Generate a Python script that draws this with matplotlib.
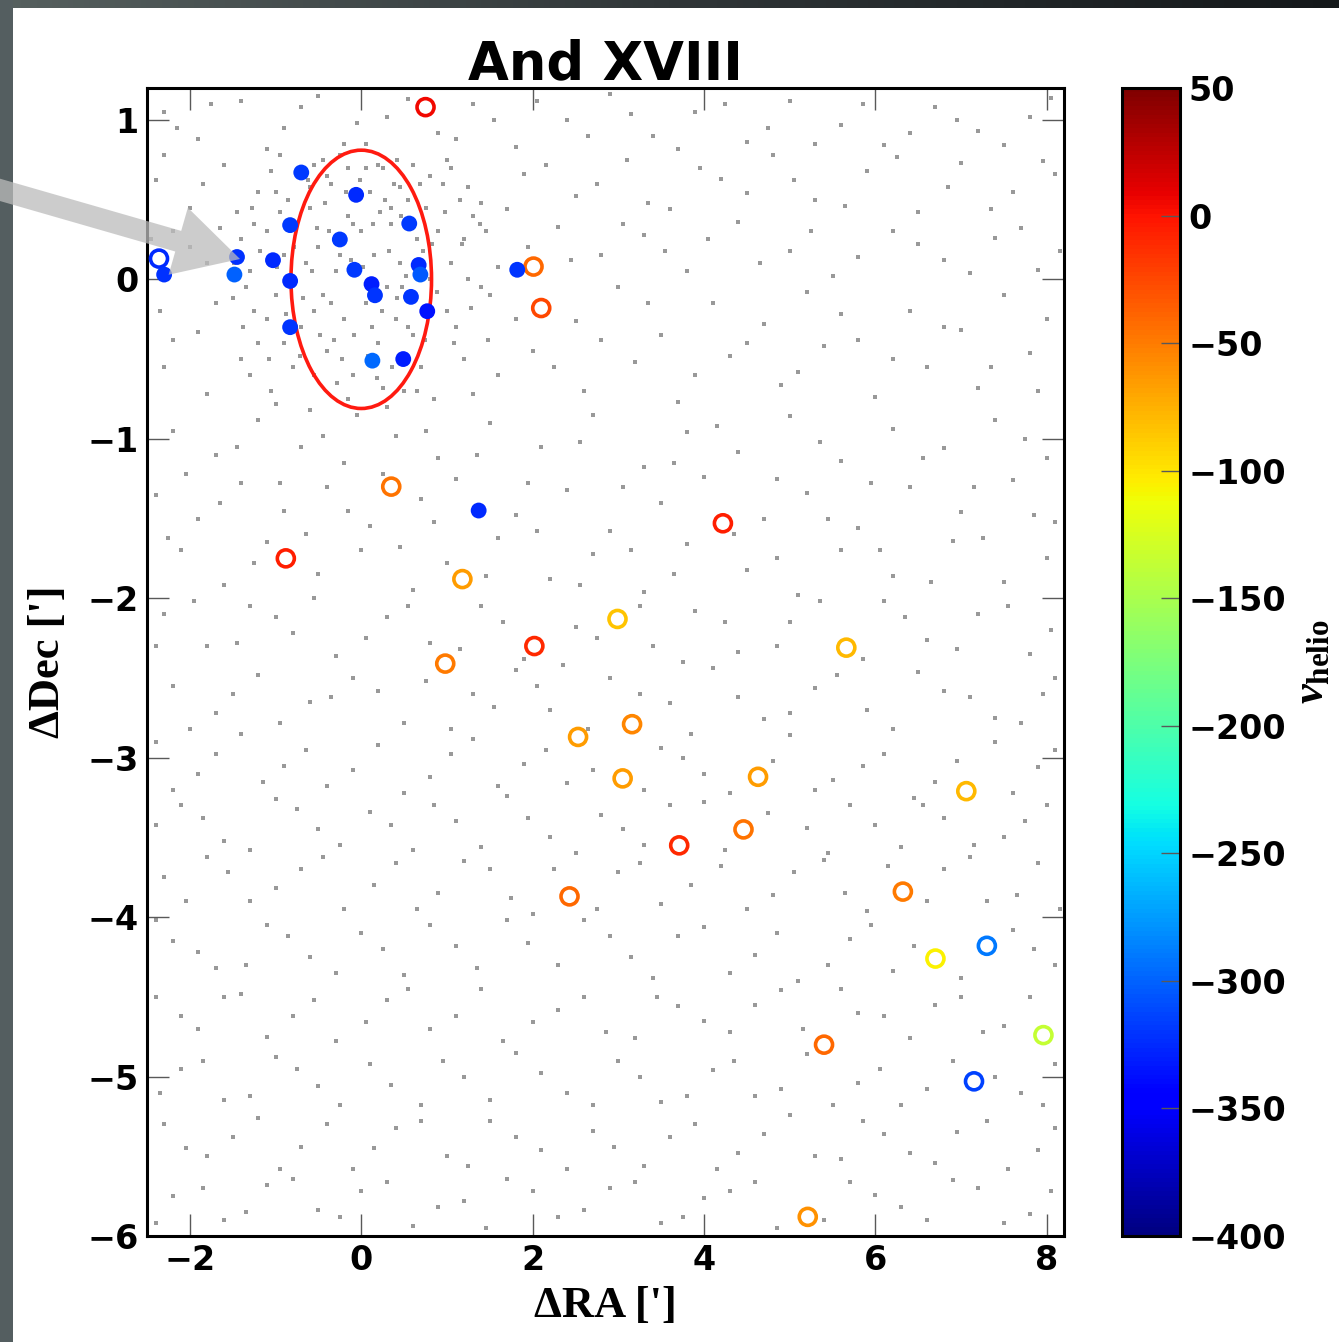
import numpy as np
import matplotlib
matplotlib.use("Agg")
import matplotlib.pyplot as plt
from matplotlib.patches import Ellipse, FancyArrow, Rectangle
from matplotlib.colors import Normalize

plt.rcParams['mathtext.fontset'] = 'custom'
plt.rcParams['mathtext.rm'] = 'Liberation Serif:bold'
plt.rcParams['mathtext.it'] = 'Liberation Serif:italic:bold'
plt.rcParams['mathtext.bf'] = 'Liberation Serif:bold'

# ---------------- data ----------------
# member stars (filled)
mem_ra = [-2.30, -1.45, -1.48, -1.03, -0.70, -0.83, -0.83, -0.83, -0.25, -0.06, -0.08,
          0.12, 0.16, 0.13, 0.49, 0.56, 0.67, 0.69, 0.58, 0.77, 1.82, 1.37]
mem_dec = [0.03, 0.14, 0.03, 0.12, 0.67, 0.34, -0.01, -0.30, 0.25, 0.53, 0.06,
           -0.03, -0.10, -0.51, -0.50, 0.35, 0.09, 0.03, -0.11, -0.20, 0.06, -1.45]
mem_v = [-322, -322, -300, -325, -318, -318, -325, -320, -318, -325, -318,
         -330, -320, -298, -330, -318, -325, -305, -320, -335, -320, -325]

# non-member stars (open)
non_ra = [-2.36, 0.75, 2.01, 2.10, 0.35, -0.88, 1.18, 4.22, 2.99, 2.02, 0.98, 5.66, 2.53,
          3.16, 3.05, 4.63, 7.06, 4.46, 3.71, 2.43, 6.32, 6.70, 7.30, 7.96, 5.40, 7.15, 5.21]
non_dec = [0.13, 1.08, 0.08, -0.18, -1.30, -1.75, -1.88, -1.53, -2.13, -2.30, -2.41, -2.31, -2.87,
           -2.79, -3.13, -3.12, -3.21, -3.45, -3.55, -3.87, -3.84, -4.26, -4.18, -4.74, -4.80, -5.03, -5.88]
non_v = [-325, 5, -40, -25, -45, -5, -65, -5, -85, -10, -50, -80, -65,
         -55, -65, -65, -80, -45, -10, -40, -50, -105, -290, -135, -40, -315, -60]

# background photometric stars (approximate positions, two sweeps)
bg_stars_a = [
 (-2.3,1.05),(-1.9,0.88),(-1.4,1.12),(-0.9,0.95),(-0.5,1.15),(-0.2,0.85),(0.3,1.02),(0.9,0.92),(1.3,1.1),(1.8,0.83),
 (2.4,1.0),(2.9,1.16),(3.4,0.9),(3.9,1.05),(4.5,0.86),(5.0,1.12),(5.6,0.97),(6.1,0.84),(6.7,1.08),(7.2,0.93),(7.8,1.02),
 (-2.4,0.62),(-2.0,0.45),(-1.6,0.72),(-1.2,0.55),(-0.95,0.78),(-0.4,0.65),(0.2,0.72),(0.45,0.58),(1.05,0.7),(1.4,0.48),
 (1.9,0.66),(2.5,0.52),(3.1,0.75),(3.6,0.44),(4.2,0.63),(4.8,0.78),(5.3,0.5),(5.9,0.68),(6.5,0.42),(7.0,0.73),(7.6,0.55),(8.1,0.66),
 (-2.2,0.3),(-1.8,0.1),(-1.25,0.35),(1.2,0.25),(1.6,0.08),(2.3,0.33),(2.8,0.15),(3.3,0.28),(3.8,0.05),(4.4,0.36),(5.0,0.18),
 (5.5,0.02),(6.2,0.3),(6.8,0.12),(7.4,0.26),(7.9,0.06),
 (-2.35,-0.2),(-1.9,-0.33),(-1.5,-0.12),(-1.1,-0.25),(1.1,-0.3),(1.5,-0.1),(2.5,-0.26),(3.0,-0.05),(3.5,-0.35),(4.1,-0.15),
 (4.7,-0.28),(5.2,-0.08),(5.8,-0.38),(6.4,-0.2),(7.0,-0.32),(7.5,-0.1),(8.0,-0.25),
 (-0.6,0.45),(-0.5,0.2),(-0.45,-0.1),(-0.4,-0.45),(-0.35,0.6),(-0.3,0.05),(-0.2,-0.25),(-0.15,0.4),(-0.1,-0.6),(0.0,0.3),
 (0.05,-0.15),(0.1,0.55),(0.15,0.15),(0.2,-0.4),(0.25,0.7),(0.3,-0.05),(0.35,0.35),(0.4,-0.25),(0.45,0.1),(0.5,-0.7),
 (0.55,0.5),(0.6,-0.35),(0.65,0.25),(0.7,-0.55),(0.75,0.45),(0.8,0.0),(-0.55,-0.6),(-0.65,0.1),(-0.7,-0.3),(-0.75,0.35),
 (-0.9,0.15),(-1.0,-0.1),(-1.1,0.3),(-1.2,-0.4),(-1.3,0.05),(-1.4,0.25),(-1.0,0.55),(-0.8,-0.55),(0.9,0.3),(1.0,-0.2),
 (1.05,0.1),(1.2,-0.5),(1.3,0.4),(1.4,-0.05),(0.95,0.6),(0.85,-0.75),(-0.25,0.78),(0.05,0.85),(-0.05,-0.85),(0.3,-0.8),
 (-0.45,0.75),(0.6,0.72),(-0.12,0.12),(0.12,-0.3),(0.22,0.42),(-0.32,-0.38),(0.42,-0.12),(-0.52,0.32),(0.72,0.18),(-0.68,-0.12),
 (0.38,0.6),(-0.22,-0.5),(0.18,-0.62),(-0.85,0.5),(1.15,0.5),(-1.25,-0.2),(0.52,0.02),(-0.02,0.62),
 (-2.3,-0.55),(-1.8,-0.72),(-1.4,-0.5),(-1.0,-0.78),(1.6,-0.6),(2.0,-0.45),(2.6,-0.7),(3.2,-0.52),(3.7,-0.77),(4.3,-0.48),
 (4.9,-0.66),(5.4,-0.42),(6.0,-0.74),(6.6,-0.55),(7.2,-0.68),(7.8,-0.46),
 (-2.2,-0.95),(-1.7,-1.1),(-1.2,-0.88),(-0.7,-1.05),(-0.2,-1.15),(0.4,-0.98),(0.9,-1.12),(1.5,-0.9),(2.1,-1.05),(2.7,-0.85),
 (3.3,-1.18),(3.8,-0.96),(4.4,-1.08),(5.0,-0.86),(5.6,-1.14),(6.2,-0.94),(6.8,-1.06),(7.4,-0.88),(8.0,-1.12),
 (-2.4,-1.35),(-1.9,-1.5),(-1.4,-1.28),(-0.9,-1.45),(-0.4,-1.3),(0.1,-1.55),(0.7,-1.38),(1.1,-1.25),(1.8,-1.48),(2.4,-1.32),
 (2.9,-1.58),(3.5,-1.4),(4.0,-1.24),(4.7,-1.5),(5.2,-1.34),(5.8,-1.56),(6.4,-1.3),(7.0,-1.46),(7.6,-1.26),(8.1,-1.52),
 (-2.1,-1.7),(-1.6,-1.92),(-1.1,-1.65),(-0.5,-1.85),(0.0,-1.7),(0.6,-1.95),(1.0,-1.78),(1.6,-1.62),(2.2,-1.88),(2.7,-1.72),
 (3.3,-1.96),(3.8,-1.66),(4.5,-1.82),(5.1,-1.98),(5.6,-1.7),(6.2,-1.86),(6.9,-1.64),(7.5,-1.9),(8.0,-1.75),
 (-2.3,-2.1),(-1.8,-2.3),(-1.3,-2.05),(-0.8,-2.22),(-0.3,-2.36),(0.3,-2.12),(0.8,-2.28),(1.4,-2.05),(1.9,-2.38),(2.5,-2.18),
 (3.4,-2.3),(3.9,-2.08),(4.4,-2.34),(5.0,-2.15),(6.1,-2.02),(6.6,-2.26),(7.2,-2.1),(7.8,-2.35),
 (-2.2,-2.55),(-1.7,-2.72),(-1.2,-2.48),(-0.6,-2.65),(-0.1,-2.5),(0.5,-2.78),(1.3,-2.6),(1.8,-2.45),(2.2,-2.7),(2.9,-2.5),
 (3.6,-2.66),(4.1,-2.44),(4.7,-2.76),(5.3,-2.56),(5.9,-2.7),(6.5,-2.46),(7.1,-2.62),(7.7,-2.78),(8.1,-2.5),
 (-2.4,-2.9),(-1.9,-3.1),(-1.4,-2.85),(-0.9,-3.05),(-0.4,-3.18),(0.2,-2.92),(0.8,-3.12),(1.3,-2.88),(1.9,-3.04),(2.4,-3.16),
 (3.5,-2.94),(4.0,-3.1),(5.0,-2.86),(5.5,-3.14),(6.1,-2.98),(6.7,-3.15),(7.4,-2.9),(7.9,-3.06),
 (-2.1,-3.3),(-1.6,-3.52),(-1.0,-3.26),(-0.5,-3.45),(0.1,-3.34),(0.6,-3.58),(1.1,-3.4),(1.7,-3.24),(2.2,-3.5),(2.8,-3.36),
 (3.3,-3.55),(4.0,-3.28),(5.2,-3.44),(5.7,-3.3),(6.3,-3.56),(6.8,-3.38),(7.5,-3.5),(8.0,-3.3),
 (-2.3,-3.75),(-1.8,-3.62),(-1.3,-3.9),(-0.7,-3.7),(-0.2,-3.95),(0.4,-3.66),(0.9,-3.85),(1.5,-3.7),(2.0,-3.98),(3.0,-3.72),
 (3.5,-3.92),(4.2,-3.68),(4.8,-3.86),(5.4,-3.64),(5.9,-3.96),(6.8,-3.7),(7.3,-3.9),(7.9,-3.66),
 (-2.2,-4.15),(-1.7,-4.32),(-1.1,-4.05),(-0.6,-4.25),(0.0,-4.1),(0.5,-4.36),(1.1,-4.18),(1.7,-4.02),(2.3,-4.3),(2.9,-4.12),
 (3.4,-4.38),(4.0,-4.06),(4.6,-4.24),(5.1,-4.4),(5.7,-4.14),(6.2,-4.34),(7.6,-4.08),(8.1,-4.3),
 (-2.4,-4.5),(-1.9,-4.7),(-1.4,-4.48),(-0.8,-4.62),(-0.3,-4.78),(0.3,-4.52),(0.8,-4.7),(1.4,-4.45),(2.0,-4.66),(2.6,-4.5),
 (3.2,-4.76),(3.7,-4.56),(4.3,-4.72),(4.9,-4.46),(5.8,-4.6),(6.4,-4.76),(7.0,-4.5),(7.5,-4.68),
 (-2.1,-4.95),(-1.6,-5.15),(-1.0,-4.88),(-0.5,-5.06),(0.1,-4.92),(0.7,-5.18),(1.2,-5.0),(1.8,-4.85),(2.4,-5.1),(3.0,-4.9),
 (3.5,-5.16),(4.1,-4.96),(4.6,-5.12),(5.2,-4.86),(5.8,-5.04),(6.3,-5.18),(6.9,-4.9),(7.7,-5.1),(8.1,-4.92),
 (-2.3,-5.3),(-1.8,-5.5),(-1.2,-5.26),(-0.7,-5.44),(-0.1,-5.58),(0.4,-5.32),(1.0,-5.5),(1.5,-5.28),(2.1,-5.46),(2.7,-5.34),
 (3.3,-5.56),(3.9,-5.3),(4.4,-5.48),(5.0,-5.24),(5.6,-5.52),(6.1,-5.36),(6.7,-5.54),(7.3,-5.28),(7.9,-5.46),
 (-2.2,-5.75),(-1.6,-5.9),(-1.1,-5.68),(-0.5,-5.84),(0.0,-5.72),(0.6,-5.94),(1.2,-5.78),(1.7,-5.64),(2.3,-5.88),(2.9,-5.7),
 (3.5,-5.92),(4.0,-5.76),(4.6,-5.66),(5.4,-5.9),(6.0,-5.74),(6.6,-5.9),(7.2,-5.7),(7.8,-5.86),
]
bg_stars_b = [
 (-2.15,0.95),(-1.75,1.1),(-1.1,0.82),(-0.7,1.08),(-0.05,0.98),(0.55,1.13),(1.1,0.88),(1.55,1.0),(2.05,1.12),(2.65,0.9),
 (3.15,1.04),(3.7,0.82),(4.25,1.1),(4.75,0.95),(5.3,0.85),(5.85,1.1),(6.4,0.92),(6.95,1.0),(7.5,0.84),(8.05,1.14),
 (-2.3,0.78),(-1.85,0.6),(-1.45,0.42),(-1.05,0.68),(-0.6,0.58),(-0.15,0.7),(0.35,0.45),(0.8,0.65),(1.25,0.58),(1.7,0.44),
 (2.15,0.72),(2.75,0.6),(3.35,0.48),(3.95,0.7),(4.5,0.54),(5.05,0.62),(5.65,0.46),(6.25,0.77),(6.85,0.58),(7.35,0.44),(7.95,0.74),
 (-2.45,0.25),(-2.0,0.2),(-1.65,0.32),(-1.35,-0.05),(-0.95,0.42),(-0.55,-0.2),(1.25,0.0),(1.45,0.3),(1.95,0.2),(2.45,0.12),
 (3.05,0.35),(3.55,0.18),(4.05,0.25),(4.65,0.1),(5.25,0.3),(5.8,0.14),(6.5,0.22),(7.1,0.04),(7.7,0.32),(8.15,0.18),
 (-2.2,-0.38),(-1.7,-0.15),(-1.3,-0.6),(-0.9,-0.4),(-0.6,-0.82),(1.3,-0.72),(1.8,-0.25),(2.25,-0.55),(2.8,-0.38),(3.35,-0.15),
 (3.9,-0.6),(4.5,-0.4),(5.1,-0.58),(5.6,-0.22),(6.2,-0.5),(6.8,-0.3),(7.35,-0.55),(7.9,-0.7),
 (-0.58,0.05),(-0.48,-0.35),(-0.38,0.3),(-0.28,-0.65),(-0.18,0.55),(-0.08,-0.35),(0.02,0.08),(0.08,-0.48),(0.14,0.35),(0.24,-0.2),
 (0.32,0.18),(0.36,-0.55),(0.46,0.4),(0.54,-0.3),(0.62,0.1),(0.68,0.6),(0.74,-0.38),(0.82,0.22),(0.88,-0.08),(0.98,0.42),
 (-0.62,0.62),(-0.72,-0.48),(-0.78,0.2),(-0.88,-0.22),(-0.98,0.08),(-1.08,-0.5),(-1.18,0.18),(-1.28,0.45),(-1.38,-0.3),(-1.48,0.1),
 (1.08,-0.4),(1.18,0.22),(1.28,-0.18),(1.38,0.35),(1.48,-0.38),(-0.42,0.48),(0.28,0.5),(-0.25,0.15),(0.15,-0.05),(-0.1,0.35),
 (0.48,-0.05),(-0.35,-0.15),(0.05,0.7),(0.42,0.75),(-0.15,-0.75),(0.25,-0.68),(0.65,-0.7),(-0.55,0.72),(1.0,0.75),(-1.05,-0.7),
 (-2.05,-1.22),(-1.45,-1.05),(-0.95,-1.28),(-0.45,-0.98),(0.25,-1.22),(0.75,-0.95),(1.35,-1.1),(1.95,-1.28),(2.55,-1.02),(3.05,-1.3),
 (3.65,-1.15),(4.15,-0.92),(4.85,-1.25),(5.35,-1.02),(5.95,-1.28),(6.55,-1.12),(7.15,-1.3),(7.75,-1.0),
 (-2.25,-1.62),(-1.65,-1.4),(-1.25,-1.78),(-0.65,-1.6),(-0.15,-1.45),(0.45,-1.68),(0.85,-1.52),(1.45,-1.86),(2.05,-1.58),(2.55,-1.92),
 (3.15,-1.7),(3.65,-1.85),(4.35,-1.6),(4.85,-1.75),(5.45,-1.5),(6.05,-1.7),(6.65,-1.9),(7.25,-1.62),(7.85,-1.48),
 (-2.4,-2.3),(-1.95,-2.02),(-1.45,-2.28),(-1.0,-2.12),(-0.55,-2.0),(0.05,-2.25),(0.55,-2.05),(1.15,-2.32),(1.65,-2.15),(2.35,-2.42),
 (2.75,-2.25),(3.25,-2.05),(3.75,-2.4),(4.25,-2.15),(4.85,-2.3),(5.35,-2.02),(5.85,-2.38),(6.35,-2.12),(6.95,-2.32),(7.55,-2.05),(8.05,-2.2),
 (-2.0,-2.82),(-1.5,-2.6),(-0.95,-2.78),(-0.35,-2.62),(0.2,-2.58),(0.75,-2.52),(1.05,-2.82),(1.55,-2.68),(2.05,-2.55),(2.65,-2.82),
 (3.25,-2.6),(3.85,-2.85),(4.4,-2.62),(5.0,-2.72),(5.55,-2.48),(6.2,-2.82),(6.8,-2.58),(7.4,-2.75),(7.95,-2.6),
 (-2.2,-3.2),(-1.7,-2.98),(-1.15,-3.15),(-0.65,-2.95),(-0.1,-3.08),(0.5,-3.22),(1.05,-2.98),(1.6,-3.18),(2.15,-2.95),(2.7,-3.08),
 (3.3,-3.2),(3.75,-3.0),(4.3,-3.22),(4.8,-3.02),(5.3,-3.2),(5.85,-3.05),(6.45,-3.25),(6.95,-3.02),(7.6,-3.22),(8.1,-2.95),
 (-2.4,-3.42),(-1.85,-3.38),(-1.3,-3.58),(-0.75,-3.32),(-0.25,-3.55),(0.35,-3.42),(0.85,-3.3),(1.4,-3.56),(1.95,-3.38),(2.5,-3.6),
 (3.05,-3.45),(3.6,-3.3),(4.25,-3.58),(4.75,-3.35),(5.45,-3.6),(6.0,-3.42),(6.55,-3.3),(7.15,-3.55),(7.75,-3.4),
 (-2.05,-3.9),(-1.55,-3.72),(-1.0,-3.82),(-0.45,-3.62),(0.15,-3.8),(0.65,-3.95),(1.2,-3.65),(1.75,-3.88),(2.25,-3.7),(2.75,-3.95),
 (3.25,-3.66),(3.85,-3.8),(4.5,-3.95),(5.05,-3.72),(5.65,-3.85),(6.15,-3.68),(6.6,-3.9),(7.1,-3.62),(7.65,-3.86),(8.15,-3.95),
 (-2.4,-4.02),(-1.9,-4.22),(-1.35,-4.3),(-0.85,-4.12),(-0.3,-4.35),(0.25,-4.2),(0.8,-4.05),(1.35,-4.32),(1.95,-4.16),(2.6,-4.02),
 (3.15,-4.25),(3.7,-4.12),(4.3,-4.35),(4.85,-4.1),(5.45,-4.3),(5.95,-4.05),(6.45,-4.18),(7.0,-4.38),(7.85,-4.2),
 (-2.1,-4.62),(-1.6,-4.5),(-1.1,-4.75),(-0.55,-4.52),(0.05,-4.66),(0.55,-4.45),(1.1,-4.62),(1.65,-4.78),(2.3,-4.58),(2.85,-4.72),
 (3.45,-4.5),(4.0,-4.65),(4.6,-4.55),(5.15,-4.7),(5.6,-4.45),(6.1,-4.62),(6.7,-4.55),(7.25,-4.72),(7.8,-4.5),
 (-2.35,-5.1),(-1.85,-4.9),(-1.3,-5.12),(-0.75,-4.95),(-0.25,-5.18),(0.35,-5.05),(0.95,-4.9),(1.5,-5.15),(2.1,-4.98),(2.7,-5.18),
 (3.25,-5.0),(3.8,-5.12),(4.35,-4.9),(4.9,-5.08),(5.5,-5.18),(6.05,-4.95),(6.6,-5.08),(7.4,-5.0),(7.95,-5.18),
 (-2.05,-5.45),(-1.5,-5.38),(-0.95,-5.58),(-0.4,-5.3),(0.15,-5.45),(0.7,-5.28),(1.25,-5.56),(1.8,-5.38),(2.4,-5.58),(2.95,-5.44),
 (3.6,-5.38),(4.15,-5.58),(4.7,-5.36),(5.3,-5.5),(5.85,-5.28),(6.4,-5.48),(6.95,-5.35),(7.55,-5.58),(8.1,-5.32),
 (-2.4,-5.92),(-1.85,-5.7),(-1.35,-5.85),(-0.8,-5.64),(-0.25,-5.88),(0.3,-5.66),(0.9,-5.82),(1.45,-5.95),(2.0,-5.72),(2.6,-5.84),
 (3.2,-5.66),(3.75,-5.88),(4.3,-5.72),(4.85,-5.95),(5.7,-5.66),(6.3,-5.82),(6.9,-5.65),(7.5,-5.92),(8.05,-5.72),
]
bg_ra = [p[0] for p in bg_stars_a + bg_stars_b]
bg_dec = [p[1] for p in bg_stars_a + bg_stars_b]

# half-light ellipse
ell_center = (0.0, 0.0)
ell_width = 1.64
ell_height = 1.62

xticks = [-2, 0, 2, 4, 6, 8]
yticks = [1, 0, -1, -2, -3, -4, -5, -6]
cticks = [50, 0, -50, -100, -150, -200, -250, -300, -350, -400]
vmin, vmax = -400, 50

# ---------------- figure ----------------
W, H = 1339, 1342
fig = plt.figure(figsize=(W / 100, H / 100), dpi=100, facecolor='white')

# dark slide border (left and top)
fig.patches.append(Rectangle((0, 0), 13 / W, 1, transform=fig.transFigure,
                             facecolor='#545e60', edgecolor='none', zorder=0))
grad_ax = fig.add_axes([0, 1 - 8 / H, 1, 8 / H])
grad_ax.imshow(np.linspace(0, 1, 256)[None, :], aspect='auto',
               cmap=matplotlib.colors.LinearSegmentedColormap.from_list('b', ['#56605f', '#303638', '#14181a']))
grad_ax.axis('off')

ax = fig.add_axes([147 / W, 1 - 1236 / H, 917 / W, 1148 / H])
cax = fig.add_axes([1122 / W, 1 - 1236 / H, 58 / W, 1148 / H])

norm = Normalize(vmin=vmin, vmax=vmax)
cmap = plt.get_cmap('jet')

ax.plot(bg_ra, bg_dec, 's', ms=2.6, color='0.6', mew=0, zorder=1)

ax.add_patch(Ellipse(ell_center, ell_width, ell_height, fill=False,
                     edgecolor='#ff1a10', lw=2.6, zorder=2))

ax.scatter(non_ra, non_dec, s=150, facecolors='none',
           edgecolors=cmap(norm(np.array(non_v))), linewidths=2.6, zorder=3)
sc = ax.scatter(mem_ra, mem_dec, s=130, c=mem_v, cmap=cmap, norm=norm,
                edgecolors='none', zorder=4)

ax.set_xlim(-2.5, 8.2)
ax.set_ylim(-6, 1.2)
ax.set_xticks(xticks)
ax.set_yticks(yticks)
ax.set_xticklabels([f'{t}'.replace('-', '\u2212') for t in xticks])
ax.set_yticklabels([f'{t}'.replace('-', '\u2212') for t in yticks])
ax.tick_params(direction='in', length=16, width=1.0, color='0.35',
               top=True, right=True, labelsize=24, pad=6)
for lab in ax.get_xticklabels() + ax.get_yticklabels():
    lab.set_fontweight('bold')
for s in ax.spines.values():
    s.set_linewidth(2.2)

ax.set_xlabel("\u0394RA [']", fontsize=32, fontweight='bold',
              family='Liberation Serif', labelpad=6)
ax.set_ylabel("\u0394Dec [']", fontsize=32, fontweight='bold',
              family='Liberation Serif', labelpad=14)
ax.set_title('And XVIII', fontsize=38, fontweight='bold', pad=6)

cb = fig.colorbar(sc, cax=cax)
cb.set_ticks(cticks)
cb.set_ticklabels([f'{t}'.replace('-', '\u2212') for t in cticks])
cax.tick_params(direction='in', length=14, width=1.0, color='0.35', labelsize=24, pad=6)
for lab in cax.get_yticklabels():
    lab.set_fontweight('bold')
cb.outline.set_linewidth(2.2)
cb.set_label(r'$v_{\rm helio}$', fontsize=32, labelpad=2)

# grey pointer arrow (semi-transparent, over everything)
x0, y0 = -0.01, 1 - 186 / H
x1, y1 = 240 / W, 1 - 259 / H
arr = FancyArrow(x0, y0, x1 - x0, y1 - y0, width=0.016, head_width=0.052,
                 head_length=0.048, length_includes_head=True,
                 transform=fig.transFigure, facecolor='#bcbcbc', edgecolor='none',
                 alpha=0.75, zorder=10)
fig.patches.append(arr)

fig.savefig('out.png', dpi=100, facecolor='white')
